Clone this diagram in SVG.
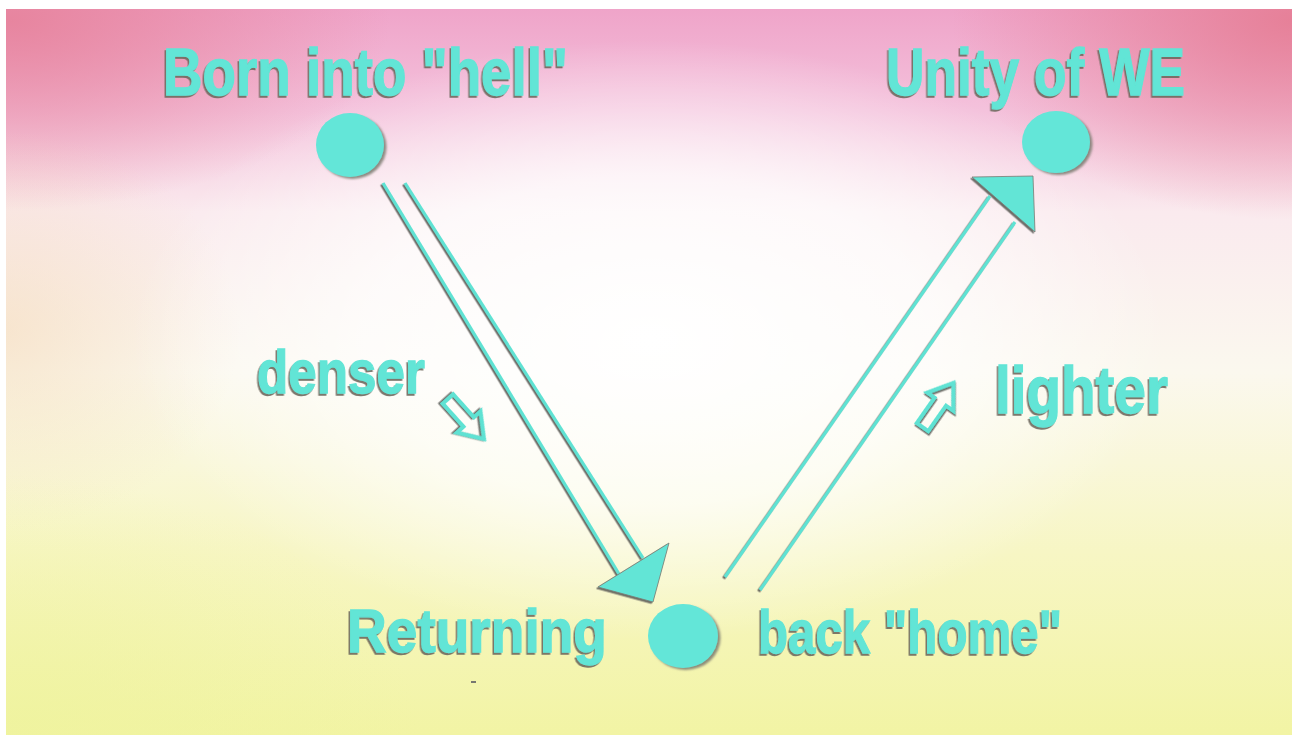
<svg xmlns="http://www.w3.org/2000/svg" width="1292" height="735" viewBox="0 0 1292 735">
<defs>
<linearGradient id="bgv" x1="0" y1="0" x2="0" y2="1">
<stop offset="0" stop-color="#efa4c9"/>
<stop offset="0.14" stop-color="#f4c2dc"/>
<stop offset="0.28" stop-color="#faeaee"/>
<stop offset="0.5" stop-color="#fbf8ee"/>
<stop offset="0.75" stop-color="#f7f6c4"/>
<stop offset="1" stop-color="#f2f4a4"/>
</linearGradient>
<radialGradient id="tl" cx="0" cy="0" r="1" gradientUnits="userSpaceOnUse" gradientTransform="translate(10 20) scale(380 190)">
<stop offset="0" stop-color="#e6819a" stop-opacity="0.9"/>
<stop offset="1" stop-color="#e6819a" stop-opacity="0"/>
</radialGradient>
<radialGradient id="tr" cx="0" cy="0" r="1" gradientUnits="userSpaceOnUse" gradientTransform="translate(1292 20) scale(340 200)">
<stop offset="0" stop-color="#e57c93" stop-opacity="0.9"/>
<stop offset="1" stop-color="#e57c93" stop-opacity="0"/>
</radialGradient>
<radialGradient id="lm" cx="0" cy="0" r="1" gradientUnits="userSpaceOnUse" gradientTransform="translate(0 330) scale(240 200)">
<stop offset="0" stop-color="#f4d8b4" stop-opacity="0.55"/>
<stop offset="1" stop-color="#f4d8b4" stop-opacity="0"/>
</radialGradient>
<radialGradient id="bl" cx="0" cy="0" r="1" gradientUnits="userSpaceOnUse" gradientTransform="translate(0 735) scale(420 260)">
<stop offset="0" stop-color="#eef39c" stop-opacity="0.7"/>
<stop offset="1" stop-color="#eef39c" stop-opacity="0"/>
</radialGradient>
<radialGradient id="glow" cx="0" cy="0" r="1" gradientUnits="userSpaceOnUse" gradientTransform="translate(650 340) scale(520 300)">
<stop offset="0" stop-color="#ffffff" stop-opacity="1"/>
<stop offset="0.55" stop-color="#ffffff" stop-opacity="0.7"/>
<stop offset="1" stop-color="#ffffff" stop-opacity="0"/>
</radialGradient>
<filter id="tsh" x="-10%" y="-20%" width="120%" height="140%">
<feDropShadow dx="-1.5" dy="2" stdDeviation="0.7" flood-color="#6e6a5e" flood-opacity="0.9"/>
</filter>
<filter id="csh" x="-20%" y="-20%" width="140%" height="140%">
<feDropShadow dx="2.5" dy="2" stdDeviation="0.9" flood-color="#7c7a70" flood-opacity="0.85"/>
</filter>
<filter id="lsh" x="-20%" y="-20%" width="140%" height="140%">
<feDropShadow dx="-1.5" dy="1.5" stdDeviation="0.5" flood-color="#5e5e58" flood-opacity="0.9"/>
</filter>
<style>
.lbl{font-family:"Liberation Sans Narrow","Liberation Sans","DejaVu Sans Condensed",sans-serif;font-weight:bold;fill:#62e5d6;stroke:#62e5d6;stroke-width:1.3;filter:url(#tsh)}
.dot{fill:#63e6d8;filter:url(#csh)}
.ln{stroke:#5fe2d3;stroke-width:3.2;fill:none;stroke-linecap:butt}
.head{fill:#62e5d6;stroke:#7a7a72;stroke-width:0.8}
.hollow{fill:none;stroke:#5fe2d3;stroke-width:4;stroke-linejoin:miter}
</style>
</defs>
<rect width="1292" height="735" fill="#ffffff"/>
<g id="background">
<rect x="6" y="9" width="1286" height="726" fill="url(#bgv)"/>
<rect x="6" y="9" width="1286" height="726" fill="url(#tl)"/>
<rect x="6" y="9" width="1286" height="726" fill="url(#tr)"/>
<rect x="6" y="9" width="1286" height="726" fill="url(#lm)"/>
<rect x="6" y="9" width="1286" height="726" fill="url(#bl)"/>
<rect x="6" y="9" width="1286" height="726" fill="url(#glow)"/>
</g>
<g id="connectors" filter="url(#lsh)">
<line class="ln" x1="383" y1="183" x2="619" y2="574"/>
<line class="ln" x1="405" y1="183" x2="643" y2="558"/>
<polygon class="head" points="598,587 669,543 653,602"/>
<line class="ln" x1="725" y1="577" x2="990" y2="196"/>
<line class="ln" x1="760" y1="590" x2="1015" y2="222"/>
<polygon class="head" points="972,177 1033,176 1035,232"/>
</g>
<g id="node-born">
<text class="lbl" x="163" y="95" font-size="66" textLength="405" lengthAdjust="spacingAndGlyphs">Born into "hell"</text>
<ellipse class="dot" cx="350" cy="145" rx="34" ry="32"/>
</g>
<g id="node-unity">
<text class="lbl" x="886" y="95" font-size="66" textLength="299" lengthAdjust="spacingAndGlyphs">Unity of WE</text>
<ellipse class="dot" cx="1056" cy="142" rx="34" ry="31"/>
</g>
<g id="node-home">
<text class="lbl" x="347" y="652" font-size="62" textLength="260" lengthAdjust="spacingAndGlyphs">Returning</text>
<ellipse class="dot" cx="683" cy="636" rx="35" ry="32"/>
<text class="lbl" x="758" y="653" font-size="62" textLength="304" lengthAdjust="spacingAndGlyphs">back "home"</text>
<rect x="471" y="681" width="5" height="2" fill="#777770"/>
</g>
<g id="label-denser">
<text class="lbl" x="257" y="393" font-size="62" textLength="168" lengthAdjust="spacingAndGlyphs">denser</text>
<polygon class="hollow" filter="url(#lsh)" transform="translate(466 419) rotate(48)" points="-27,-7 4,-7 4,-16 27,0 4,16 4,7 -27,7"/>
</g>
<g id="label-lighter">
<text class="lbl" x="995" y="413" font-size="66" textLength="173" lengthAdjust="spacingAndGlyphs">lighter</text>
<polygon class="hollow" filter="url(#lsh)" transform="translate(938 405) rotate(-55)" points="-27,-7 4,-7 4,-16 27,0 4,16 4,7 -27,7"/>
</g>
</svg>
